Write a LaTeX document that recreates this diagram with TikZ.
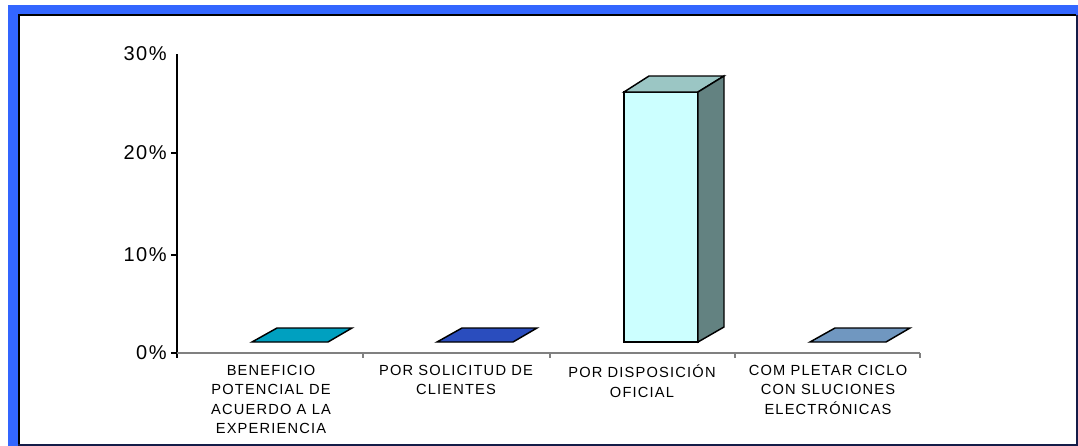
\documentclass[tikz,border=0pt]{standalone}
\usepackage{fontspec}
\setmainfont{Liberation Sans}
\newfontfamily\ticklblfont[LetterSpace=8]{Liberation Sans}
\newfontfamily\catlblfont[LetterSpace=8]{Liberation Sans}
\definecolor{frameblue}{HTML}{3366FF}
\definecolor{framenavy}{HTML}{141C48}
\definecolor{axisgray}{HTML}{808080}
\definecolor{barA}{HTML}{00A0C0}
\definecolor{barB}{HTML}{2A4DBE}
\definecolor{barD}{HTML}{7097C0}
\definecolor{barCfront}{HTML}{CCFFFF}
\definecolor{barCtop}{HTML}{9BC6C4}
\definecolor{barCside}{HTML}{638281}
\tikzset{
  barline/.style={draw=black, line width=1.1pt, line join=miter},
  ticklbl/.style={anchor=east, inner sep=0pt, font={\ticklblfont\fontsize{15}{17}\selectfont}},
  catlbl/.style={anchor=north, inner sep=0pt, align=center, font={\catlblfont\fontsize{11}{14.6}\selectfont}},
  axisline/.style={draw=axisgray, line width=1.5pt},
  yaxisline/.style={draw=black, line width=0.8pt}
}
\begin{document}
\begin{tikzpicture}[x=0.75pt,y=-0.75pt]
\useasboundingbox (0,0) rectangle (1078,446);
% frame
\fill[frameblue] (8,5) rectangle (1078,446);
\fill[white] (18,14) rectangle (1076,444);
\draw[black, line width=1.5pt] (18.5,443.5) -- (18.5,14.5) -- (1076,14.5);
\draw[framenavy, line width=1.5pt] (1076.5,14.5) -- (1076.5,444.5) -- (18,444.5);
% y axis
\draw[yaxisline] (177,54) -- (177,358);
\foreach \yy in {153,255,353} \draw[yaxisline] (171,\yy) -- (177,\yy);
\node[ticklbl] (t30) at (167,54) {30\%};
\node[ticklbl] (t20) at (167,153) {20\%};
\node[ticklbl] (t10) at (167,255) {10\%};
\node[ticklbl] (t0) at (167,353) {0\%};
% x axis
\draw[axisline] (177,353) -- (920,353);
\foreach \xx in {363,550,735,920} \draw[draw=axisgray, line width=0.8pt] (\xx,353) -- (\xx,358);
% flat bars
\filldraw[barline, fill=barA] (252,342) -- (328,342) -- (352,328) -- (277,328) -- cycle;
\filldraw[barline, fill=barB] (437,342) -- (513,342) -- (537,328) -- (462,328) -- cycle;
\filldraw[barline, fill=barD] (810,342) -- (886,342) -- (910,328) -- (835,328) -- cycle;
% tall bar
\filldraw[barline, fill=barCfront] (624,92) rectangle (698,342);
\filldraw[barline, fill=barCtop] (624,92) -- (649,76) -- (724,76) -- (698,92) -- cycle;
\filldraw[barline, fill=barCside] (698,92) -- (724,76) -- (724,327) -- (698,342) -- cycle;
% category labels
\node[catlbl] (c1) at (271,365) {BENEFICIO\\POTENCIAL DE\\ACUERDO A LA\\EXPERIENCIA};
\node[catlbl] (c2) at (456,365) {POR SOLICITUD DE\\CLIENTES};
\node[catlbl] (c3) at (642,365) {POR DISPOSICIÓN\\OFICIAL};
\node[catlbl] (c4) at (828,365) {COM PLETAR CICLO\\CON SLUCIONES\\ELECTRÓNICAS};
\end{tikzpicture}
\end{document}
